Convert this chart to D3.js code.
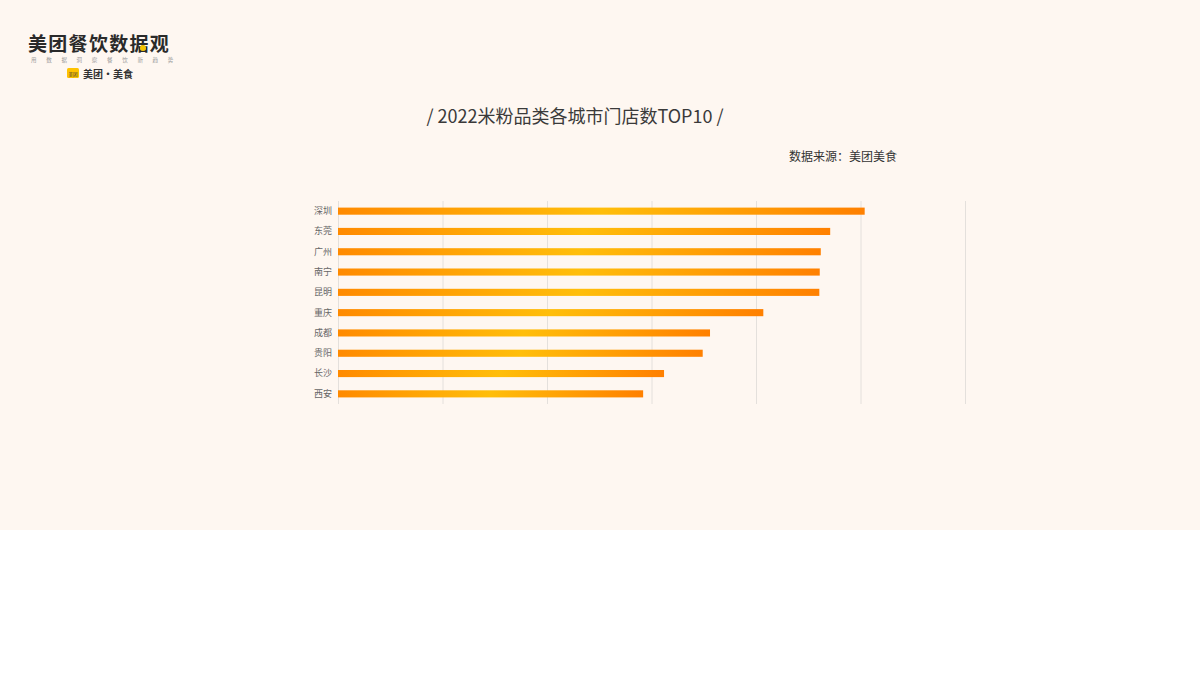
<!DOCTYPE html>
<html><head><meta charset="utf-8">
<script src="https://cdn.jsdelivr.net/npm/d3@7/dist/d3.min.js"></script>
<style>
html,body{margin:0;padding:0;background:#fff;}
svg{display:block;font-family:"Noto Sans CJK SC","Noto Sans",sans-serif;}
</style></head>
<body>
<svg id="chart" width="1200" height="675"></svg>
<script>
const cities = ["深圳","东莞","广州","南宁","昆明","重庆","成都","贵阳","长沙","西安"];
const storeCounts = [25200,23550,23100,23050,23030,20350,17800,17450,15600,14600];
const xTicks = [0,5000,10000,15000,20000,25000,30000];
const titleText = "/ 2022米粉品类各城市门店数TOP10 /";
const sourceText = "数据来源：美团美食";

const svg = d3.select("#chart");
svg.append("rect").attr("x",0).attr("y",0).attr("width",1200).attr("height",530).attr("fill","#FEF7F1");

// logo
const logo = svg.append("g");
logo.append("text").attr("x",28).attr("y",51).attr("font-size",19).attr("font-weight",700)
  .attr("fill","#2a2a2a").attr("letter-spacing",1.3).text("美团餐饮数据观");
logo.append("circle").attr("cx",143).attr("cy",48).attr("r",3).attr("fill","#F5C400");
const small = "用数据洞察餐饮新趋势".split("");
small.forEach((c,i)=>{
  logo.append("text").attr("x",31+i*15.2).attr("y",62).attr("font-size",5.5).attr("fill","#999").text(c);
});
logo.append("rect").attr("x",67).attr("y",68).attr("width",12).attr("height",10).attr("rx",1.5).attr("fill","#FFC300");
logo.append("text").attr("x",73).attr("y",75.5).attr("font-size",4.5).attr("text-anchor","middle").attr("fill","#333").text("美团");
logo.append("text").attr("x",83).attr("y",77.5).attr("font-size",10).attr("font-weight",700).attr("fill","#333").text("美团·美食");

svg.append("text").attr("x",575).attr("y",123).attr("text-anchor","middle").attr("font-size",18)
  .attr("fill","#3a3a3a").text(titleText);
svg.append("text").attr("x",897).attr("y",161).attr("text-anchor","end").attr("font-size",12)
  .attr("fill","#333").text(sourceText);

const x = d3.scaleLinear().domain([0,30000]).range([338,965]);
const y = d3.scaleBand().domain(cities).range([201,404]).paddingInner(0.65).paddingOuter(0.325);

// gridlines
svg.append("g").attr("transform","translate(0,404)")
  .call(d3.axisBottom(x).tickValues(xTicks).tickSize(-203).tickFormat(""))
  .call(g=>{g.select(".domain").remove();
    g.selectAll("line").attr("stroke","#E4E0DC").attr("stroke-width",1);});

// y labels
svg.append("g").attr("transform","translate(338,0)")
  .call(d3.axisLeft(y).tickSize(0).tickPadding(6))
  .call(g=>{g.select(".domain").remove();
    g.selectAll("text").attr("font-size",9).attr("fill","#666")
     .attr("font-family","'Noto Sans CJK SC',sans-serif");});

const defs = svg.append("defs");
const grad = defs.append("linearGradient").attr("id","barGrad").attr("x1","0").attr("x2","1").attr("y1","0").attr("y2","0");
grad.append("stop").attr("offset","0%").attr("stop-color","#FF8A00");
grad.append("stop").attr("offset","50%").attr("stop-color","#FFBE0A");
grad.append("stop").attr("offset","100%").attr("stop-color","#FF8000");

svg.append("g").selectAll("rect").data(cities).join("rect")
  .attr("x",x(0)).attr("y",d=>y(d))
  .attr("width",(d,i)=>x(storeCounts[i])-x(0))
  .attr("height",y.bandwidth())
  .attr("fill","url(#barGrad)");
</script>
</body></html>
